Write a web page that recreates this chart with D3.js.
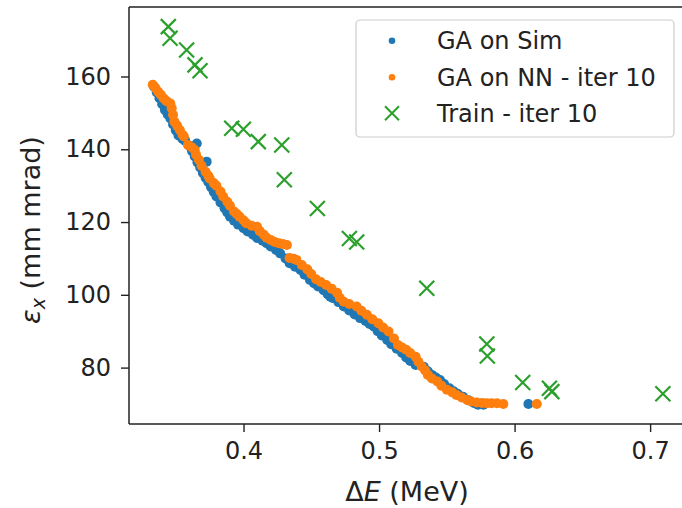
<!DOCTYPE html>
<html>
<head>
<meta charset="utf-8">
<script src="https://cdn.jsdelivr.net/npm/d3@7"></script>
<style>
  body { margin: 0; background: #fff; }
  svg { display: block; font-family: "DejaVu Sans", sans-serif; }
</style>
</head>
<body>
<svg id="chart" width="682" height="508"></svg>
<script>
// GA on Sim (blue)
var simX = [0.334,0.336,0.338,0.340,0.342,0.344,0.346,0.348,0.350,0.352,0.355,0.357,0.360,0.3655,0.362,0.364,0.366,0.3728,0.368,0.370,
  0.372,0.374,0.376,0.378,0.380,0.383,0.386,0.388,0.390,0.393,0.396,0.400,0.403,0.407,0.410,0.414,0.417,0.420,0.424,0.427,
  0.431,0.434,0.438,0.442,0.445,0.449,0.452,0.455,0.459,0.462,0.464,0.466,0.470,0.474,0.478,0.482,0.486,0.490,0.493,0.496,
  0.499,0.502,0.506,0.509,0.513,0.517,0.520,0.523,0.527,0.533,0.536,0.539,0.542,0.545,0.548,0.552,0.555,0.558,0.562,0.566,
  0.570,0.573,0.577,0.6102];
var simY = [157.2,155.6,154.0,152.4,150.8,149.6,148.5,146.8,145.2,143.8,142.8,142.3,141.0,141.6,139.5,138.0,136.4,136.6,135.0,133.5,
  132.2,131.0,129.6,128.3,127.0,125.4,123.8,122.6,121.5,120.4,119.3,118.3,117.4,116.5,115.6,114.9,114.2,113.3,112.3,111.4,
  110.0,108.7,107.7,106.8,105.5,104.1,103.2,102.3,101.3,100.2,99.5,99.1,98.0,96.8,95.7,94.6,93.6,92.8,92.0,91.3,
  90.0,88.8,87.6,86.4,85.2,84.0,82.8,81.8,80.7,80.2,79.0,78.0,77.3,76.6,75.5,74.3,73.5,72.8,72.0,71.0,
  70.3,69.8,69.8,70.0];

// GA on NN - iter 10 (orange)
var nnX = [0.333,0.335,0.337,0.339,0.341,0.343,0.346,0.347,0.348,0.349,0.351,0.353,0.355,0.356,0.359,0.362,0.364,0.365,0.367,0.369,
  0.372,0.374,0.375,0.378,0.380,0.383,0.385,0.388,0.390,0.393,0.395,0.397,0.400,0.402,0.406,0.410,0.412,0.415,0.417,0.420,
  0.423,0.426,0.429,0.432,0.434,0.437,0.439,0.443,0.447,0.450,0.4535,0.457,0.461,0.465,0.469,0.471,0.474,0.478,0.4835,0.487,
  0.491,0.495,0.4995,0.503,0.507,0.511,0.514,0.517,0.520,0.523,0.527,0.529,0.5315,0.534,0.536,0.539,0.543,0.546,0.550,0.554,
  0.557,0.561,0.565,0.568,0.572,0.576,0.5795,0.583,0.587,0.5917,0.6164];
var nnY = [157.7,156.8,155.8,155.0,154.0,153.3,152.6,151.3,149.5,147.6,146.5,145.3,144.0,143.5,141.2,140.5,139.8,138.5,137.1,135.5,
  133.8,132.7,132.0,130.7,130.0,128.4,127.0,125.6,124.5,122.9,122.2,121.5,120.5,119.7,119.0,118.7,117.5,116.5,115.7,115.1,
  114.5,114.2,114.0,113.7,110.1,109.9,109.6,108.2,107.0,105.7,104.3,103.5,102.7,101.7,100.6,99.2,98.1,97.5,96.8,95.6,
  94.5,93.3,92.2,91.0,89.9,88.0,86.2,85.5,84.9,84.0,83.0,81.6,80.3,79.2,78.0,77.0,76.2,75.0,73.9,73.2,
  72.5,71.8,71.1,70.7,70.4,70.3,70.2,70.2,70.2,70.0,70.0];

// Train - iter 10 (green crosses)
var trainX = [0.3445,0.3458,0.358,0.3642,0.3679,0.3913,0.3999,0.4109,0.4282,0.4301,0.4545,0.4781,0.4835,0.5352,0.5795,0.5799,0.606,0.6257,0.6275,0.7094];
var trainY = [173.7,170.5,167.3,163.2,161.6,145.8,145.5,142.1,141.2,131.6,123.7,115.5,114.5,101.8,86.5,83.2,75.9,74.3,73.4,72.8];

var xTicks = [0.4, 0.5, 0.6, 0.7];
var yTicks = [80, 100, 120, 140, 160];
var legendLabels = ["GA on Sim", "GA on NN - iter 10", "Train - iter 10"];
var colors = ["#1f77b4", "#ff7f0e", "#2ca02c"];

var plotLeft = 129, plotTop = 7, plotRight = 684, plotBottom = 424;
var svg = d3.select("#chart");

var x = d3.scaleLinear().domain([0.3155, 0.725]).range([plotLeft, plotRight]);
var y = d3.scaleLinear().domain([64.5, 179.1]).range([plotBottom, plotTop]);

svg.append("rect").attr("width", 682).attr("height", 508).attr("fill", "#fff");

var plot = svg.append("g");

function drawDots(xs, ys, color) {
  plot.append("g").selectAll("circle")
    .data(d3.zip(xs, ys))
    .enter().append("circle")
    .attr("cx", function(d) { return x(d[0]); })
    .attr("cy", function(d) { return y(d[1]); })
    .attr("r", 5)
    .attr("fill", color);
}

drawDots(simX, simY, colors[0]);
drawDots(nnX, nnY, colors[1]);

function crossPath(cx, cy, h) {
  return "M" + (cx - h) + "," + (cy - h) + "L" + (cx + h) + "," + (cy + h) +
         "M" + (cx - h) + "," + (cy + h) + "L" + (cx + h) + "," + (cy - h);
}

plot.append("g").selectAll("path")
  .data(d3.zip(trainX, trainY))
  .enter().append("path")
  .attr("d", function(d) { return crossPath(x(d[0]), y(d[1]), 7.5); })
  .attr("stroke", colors[2])
  .attr("stroke-width", 2.2)
  .attr("fill", "none");

// axes
var xAxis = svg.append("g")
  .attr("transform", "translate(0," + plotBottom + ")")
  .call(d3.axisBottom(x).tickValues(xTicks).tickSize(8).tickPadding(10).tickFormat(d3.format(".1f")));
var yAxis = svg.append("g")
  .attr("transform", "translate(" + plotLeft + ",0)")
  .call(d3.axisLeft(y).tickValues(yTicks).tickSize(8).tickPadding(10).tickFormat(d3.format("d")));

[xAxis, yAxis].forEach(function(a) {
  a.select(".domain").remove();
  a.selectAll(".tick line").attr("stroke", "#222").attr("stroke-width", 1.4);
  a.selectAll(".tick text").attr("fill", "#222").style("font-size", "24px").style("font-family", "DejaVu Sans");
});

// spines
svg.append("line").attr("x1", plotLeft).attr("x2", plotLeft).attr("y1", plotTop).attr("y2", plotBottom).attr("stroke", "#222").attr("stroke-width", 1.5);
svg.append("line").attr("x1", plotLeft).attr("x2", plotRight).attr("y1", plotBottom).attr("y2", plotBottom).attr("stroke", "#222").attr("stroke-width", 1.5);
svg.append("line").attr("x1", plotLeft).attr("x2", plotRight).attr("y1", plotTop).attr("y2", plotTop).attr("stroke", "#222").attr("stroke-width", 1.5);

// axis labels
var xl = svg.append("text")
  .attr("x", 407).attr("y", 501)
  .attr("text-anchor", "middle")
  .attr("fill", "#222")
  .style("font-size", "27px");
xl.append("tspan").text("Δ");
xl.append("tspan").style("font-style", "italic").text("E");
xl.append("tspan").text(" (MeV)");

var yl = svg.append("text")
  .attr("transform", "translate(40,230) rotate(-90)")
  .attr("text-anchor", "middle")
  .attr("fill", "#222")
  .style("font-size", "27px");
yl.append("tspan").style("font-style", "italic").text("ε");
yl.append("tspan").style("font-style", "italic").style("font-size", "19px").attr("dy", 5).text("x");
yl.append("tspan").attr("dy", -5).text(" (mm mrad)");

// legend
var lg = svg.append("g");
lg.append("rect")
  .attr("x", 356).attr("y", 20).attr("width", 318).attr("height", 117)
  .attr("rx", 4).attr("fill", "#fff").attr("fill-opacity", 0.8)
  .attr("stroke", "#ccc").attr("stroke-width", 1.2);

var rowY = [40.7, 77.3, 113.3];
legendLabels.forEach(function(lab, i) {
  if (i < 2) {
    lg.append("circle").attr("cx", 392).attr("cy", rowY[i]).attr("r", 3.3).attr("fill", colors[i]);
  } else {
    lg.append("path").attr("d", crossPath(392, rowY[i], 7)).attr("stroke", colors[i]).attr("stroke-width", 2).attr("fill", "none");
  }
  lg.append("text").attr("x", 437).attr("y", rowY[i] + 8.7)
    .attr("fill", "#222").style("font-size", "24px").text(lab);
});
</script>
</body>
</html>
